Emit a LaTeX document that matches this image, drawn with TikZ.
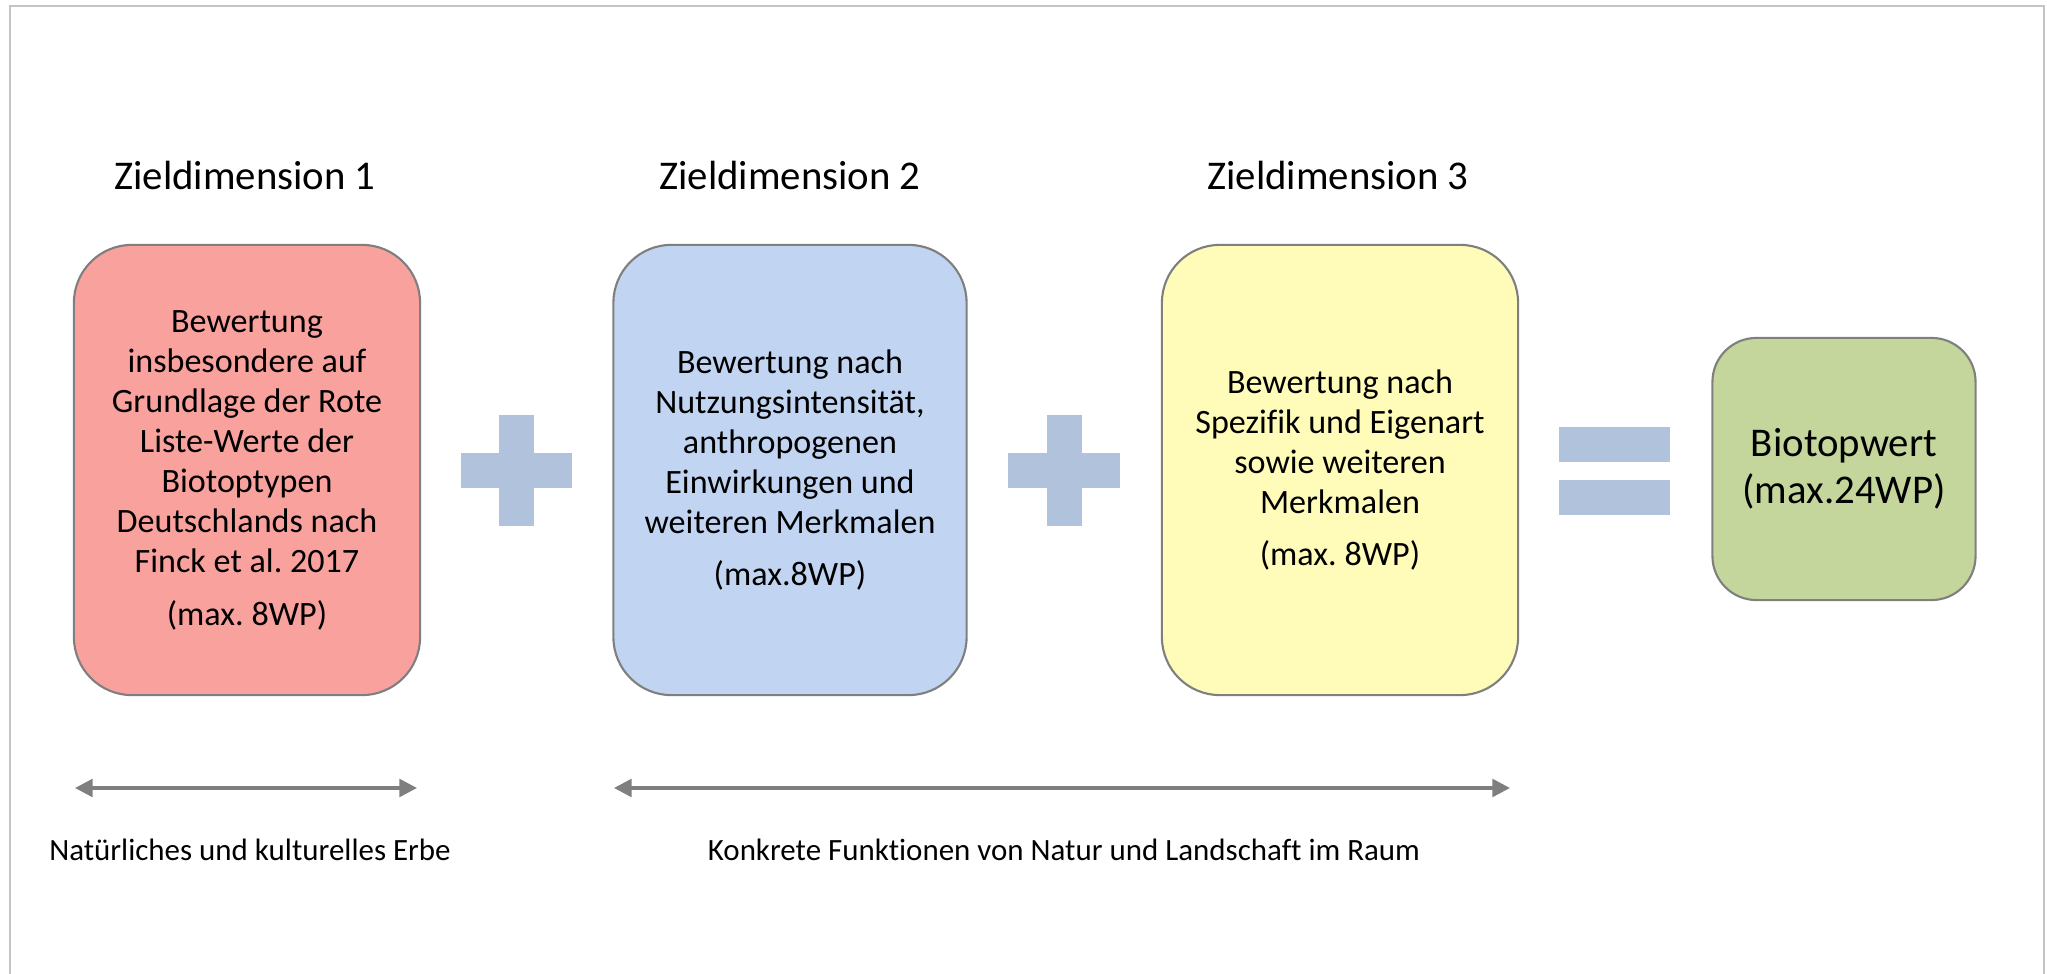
\documentclass[tikz,border=0pt]{standalone}
\usepackage{fontspec}
\setmainfont[Ligatures=NoCommon]{Carlito}
\usetikzlibrary{arrows.meta}
\frenchspacing

\definecolor{rotfill}{HTML}{F9A19D}
\definecolor{blaufill}{HTML}{C1D4F1}
\definecolor{gelbfill}{HTML}{FFFBB8}
\definecolor{gruenfill}{HTML}{C4D69B}
\definecolor{randgrau}{HTML}{7F7F7F}
\definecolor{zeichenblau}{HTML}{B1C2DD}
\definecolor{rahmengrau}{HTML}{C4C4C4}

\begin{document}
\begin{tikzpicture}[x=0.01cm, y=-0.01cm,
    wertbox/.style={draw=randgrau, line width=0.6pt, rounded corners=0.58cm,
      minimum width=3.46cm, minimum height=4.5cm, inner sep=0pt, align=center,
      font=\fontsize{9.7}{11.4}\selectfont},
    kopf/.style={font=\fontsize{11.6}{14}\selectfont},
    fuss/.style={font=\fontsize{8.8}{10.5}\selectfont},
    pfeil/.style={draw=randgrau, line width=1pt,
      {Triangle[length=5pt,width=5pt]}-{Triangle[length=5pt,width=5pt]}}]
      \useasboundingbox (0,0) rectangle (2047,974);
      \draw[color=rahmengrau, line width=0.8pt] (10,990)--(10,6)--(2044,6)--(2044,990);

      % Kopfzeilen
      \node[kopf] (kopf1) at (245,176) {Zieldimension 1};
      \node[kopf] (kopf2) at (790,176) {Zieldimension 2};
      \node[kopf] (kopf3) at (1338,176) {Zieldimension 3};

      % Boxen
      \node[wertbox, fill=rotfill] (dim1) at (247,470)
        {Bewertung\\insbesondere auf\\Grundlage der Rote\\Liste-Werte der\\Biotoptypen\\Deutschlands nach\\Finck et al. 2017\\[3.5pt](max. 8WP)};
      \node[wertbox, fill=blaufill, minimum width=3.53cm] (dim2) at (790,470)
        {Bewertung nach\\Nutzungsintensität,\\anthropogenen\\Einwirkungen und\\weiteren Merkmalen\\[3.5pt](max.8WP)};
      \node[wertbox, fill=gelbfill, minimum width=3.56cm] (dim3) at (1340,470)
        {Bewertung nach\\Spezifik und Eigenart\\sowie weiteren\\Merkmalen\\[3.5pt](max. 8WP)};
      \node[wertbox, fill=gruenfill, rounded corners=0.44cm, minimum width=2.63cm,
        minimum height=2.62cm, font=\fontsize{11.6}{13.4}\selectfont] (wert) at (1844,469)
        {Biotopwert\\(max.24WP)};

      % Plus und Gleich
      \fill[zeichenblau] (461,453) rectangle (572,488);
      \fill[zeichenblau] (499,415) rectangle (534,526);
      \fill[zeichenblau] (1008,453) rectangle (1120,488);
      \fill[zeichenblau] (1047,415) rectangle (1082,526);
      \fill[zeichenblau] (1559,427) rectangle (1670,462);
      \fill[zeichenblau] (1559,480) rectangle (1670,515);

      % Pfeile unten
      \coordinate (erbe-l) at (75,788);
      \coordinate (erbe-r) at (417,788);
      \coordinate (raum-l) at (614,788);
      \coordinate (raum-r) at (1510,788);
      \draw[pfeil] (erbe-l)--(erbe-r);
      \draw[pfeil] (raum-l)--(raum-r);
      \node[fuss] (erbe) at (250,850) {Natürliches und kulturelles Erbe};
      \node[fuss] (raum) at (1064,850) {Konkrete Funktionen von Natur und Landschaft im Raum};
    \end{tikzpicture}
\end{document}
